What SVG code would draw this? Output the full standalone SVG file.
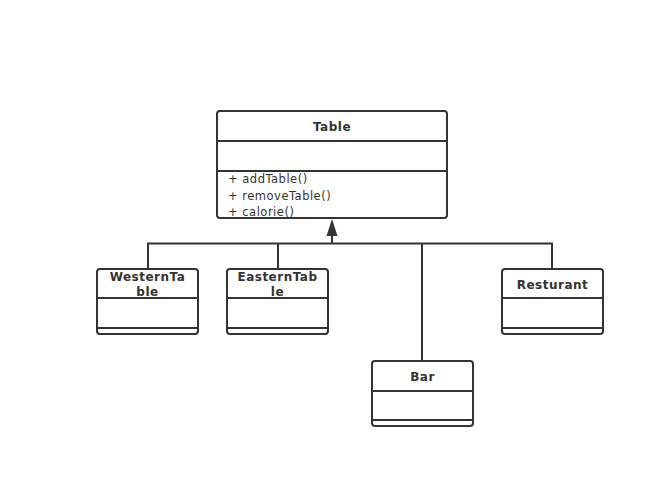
<svg xmlns="http://www.w3.org/2000/svg" width="665" height="489" viewBox="0 0 665 489">
<style>
.box{fill:#fff;stroke:#333;stroke-width:2}
.div{stroke:#333;stroke-width:2}
.t{font-family:"DejaVu Sans","Noto Sans",sans-serif;font-size:12px;font-weight:bold;fill:#333;text-anchor:middle;letter-spacing:0.5px}
.m{font-family:"DejaVu Sans","Noto Sans",sans-serif;font-size:11.5px;fill:#333;letter-spacing:0.5px}
.c{fill:none;stroke:#333;stroke-width:2}
</style>
<rect width="665" height="489" fill="#fff"/>
<g id="connectors">
<path class="c" d="M148 268V243.5H552V268M278 243.5V268M422 243.5V360M332 243.5V234"/>
<polygon points="332,219 326.5,236 337.5,236" fill="#333"/>
</g>
<g id="Table">
<rect class="box" x="217" y="111" width="230" height="107" rx="3"/>
<line class="div" x1="217" y1="141" x2="447" y2="141"/>
<line class="div" x1="217" y1="171" x2="447" y2="171"/>
<text class="t" x="332" y="131">Table</text>
<text class="m" x="228" y="183">+ addTable()</text>
<text class="m" x="228" y="200">+ removeTable()</text>
<text class="m" x="228" y="216">+ calorie()</text>
</g>
<g id="WesternTable">
<rect class="box" x="97" y="269" width="101" height="65" rx="3"/>
<line class="div" x1="97" y1="298" x2="198" y2="298"/>
<line class="div" x1="97" y1="328" x2="198" y2="328"/>
<text class="t" x="147.5" y="281">WesternTa</text>
<text class="t" x="147.5" y="296">ble</text>
</g>
<g id="EasternTable">
<rect class="box" x="227" y="269" width="101" height="65" rx="3"/>
<line class="div" x1="227" y1="298" x2="328" y2="298"/>
<line class="div" x1="227" y1="328" x2="328" y2="328"/>
<text class="t" x="277.5" y="281">EasternTab</text>
<text class="t" x="277.5" y="296">le</text>
</g>
<g id="Resturant">
<rect class="box" x="502" y="269" width="101" height="65" rx="3"/>
<line class="div" x1="502" y1="298" x2="603" y2="298"/>
<line class="div" x1="502" y1="328" x2="603" y2="328"/>
<text class="t" x="552.5" y="289">Resturant</text>
</g>
<g id="Bar">
<rect class="box" x="372" y="361" width="101" height="65" rx="3"/>
<line class="div" x1="372" y1="391" x2="473" y2="391"/>
<line class="div" x1="372" y1="420" x2="473" y2="420"/>
<text class="t" x="422.5" y="381">Bar</text>
</g>
</svg>
